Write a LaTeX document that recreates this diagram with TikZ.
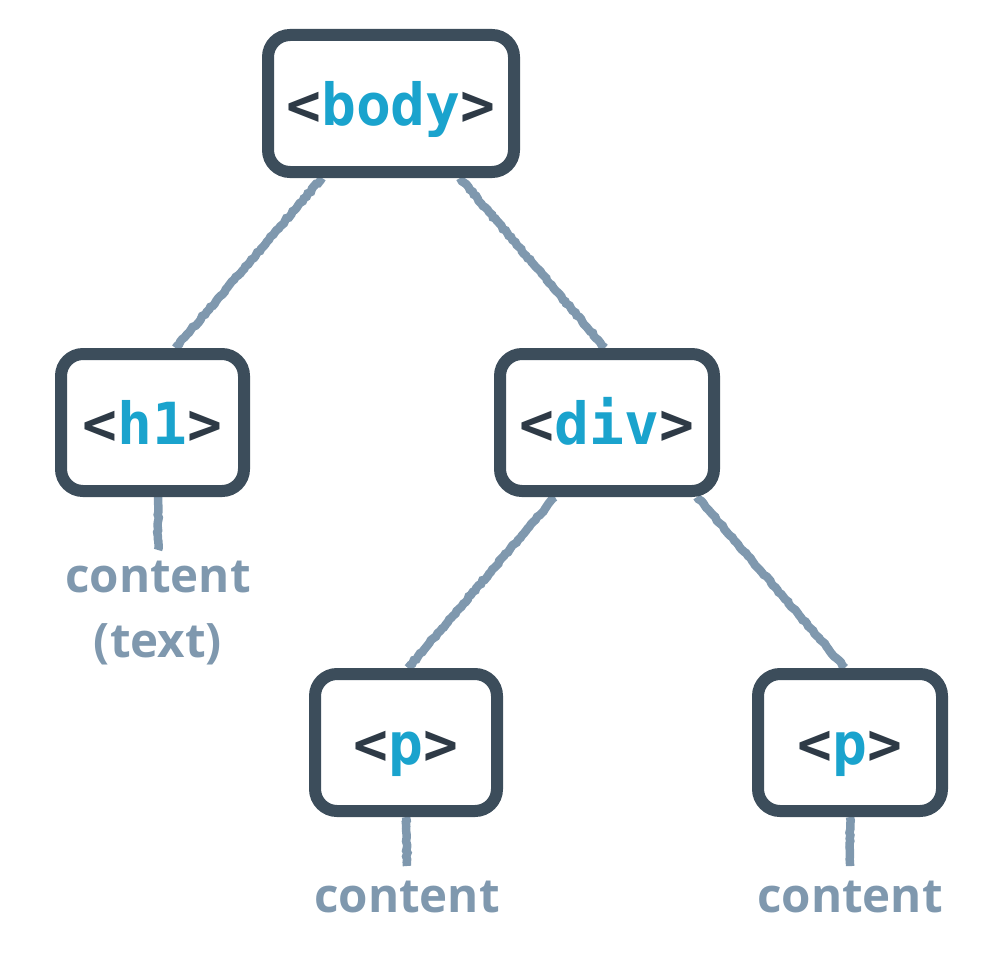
\documentclass[tikz,border=0pt]{standalone}
\usepackage{fontspec}
\setmainfont{Open Sans}
\newfontfamily\tagfont{DejaVu Sans Mono}
\usetikzlibrary{calc,backgrounds,decorations.pathmorphing}
\definecolor{boxc}{HTML}{3C4D5B}
\definecolor{tagc}{HTML}{2E3A46}
\definecolor{bluec}{HTML}{1AA3CD}
\definecolor{wirec}{HTML}{7F98AE}
\newcommand{\tg}[1]{<\textcolor{bluec}{#1}>}
\begin{document}
\begin{tikzpicture}[x=1pt,y=-1pt,
  tagbox/.style={draw=boxc, line width=12pt, rounded corners=22pt, fill=white,
    inner sep=0pt, minimum height=137pt,
    font=\tagfont\bfseries\fontsize{58}{58}\selectfont, text=tagc,
    text height=43pt, text depth=0pt},
  wire/.style={draw=wirec, line width=8.5pt, decorate,
    decoration={random steps, segment length=3pt, amplitude=0.8pt}},
  contentlbl/.style={text=wirec, font=\bfseries\fontsize{47.5}{65}\selectfont,
    align=center, inner sep=0pt}]
\useasboundingbox (0,0) rectangle (1000,958);
\node[tagbox, minimum width=246pt] (body) at (391,103.5) {\tg{body}};
\node[tagbox, minimum width=183pt] (h1) at (152.5,422.5) {\tg{h1}};
\node[tagbox, minimum width=214pt] (div) at (607,422.5) {\tg{div}};
\node[tagbox, minimum width=182pt] (p1) at (406,742.5) {\tg{p}};
\node[tagbox, minimum width=184pt] (p2) at (850,742.5) {\tg{p}};
\node[contentlbl, anchor=base] (c1) at (158,657) {content\\(text)};
\node[contentlbl, anchor=base] (c2) at (407,912) {content};
\node[contentlbl, anchor=base] (c3) at (850,912) {content};
\coordinate (c1t) at (158,550);
\coordinate (c2t) at (407,866);
\coordinate (c3t) at (850,866);
\begin{pgfonlayer}{background}
\draw[wire] ($(body.south)+(-69,0)$) -- ($(h1.north)+(23,0)$);
\draw[wire] ($(body.south)+(69,0)$) -- ($(div.north)+(-2,0)$);
\draw[wire] ($(div.south)+(-52,0)$) -- ($(p1.north)+(2,0)$);
\draw[wire] ($(div.south)+(90,0)$) -- ($(p2.north)+(-5,0)$);
\draw[wire] ($(h1.south)+(5.5,0)$) -- (c1t);
\draw[wire] (p1.south) -- (c2t);
\draw[wire] (p2.south) -- (c3t);
\end{pgfonlayer}
\end{tikzpicture}
\end{document}
